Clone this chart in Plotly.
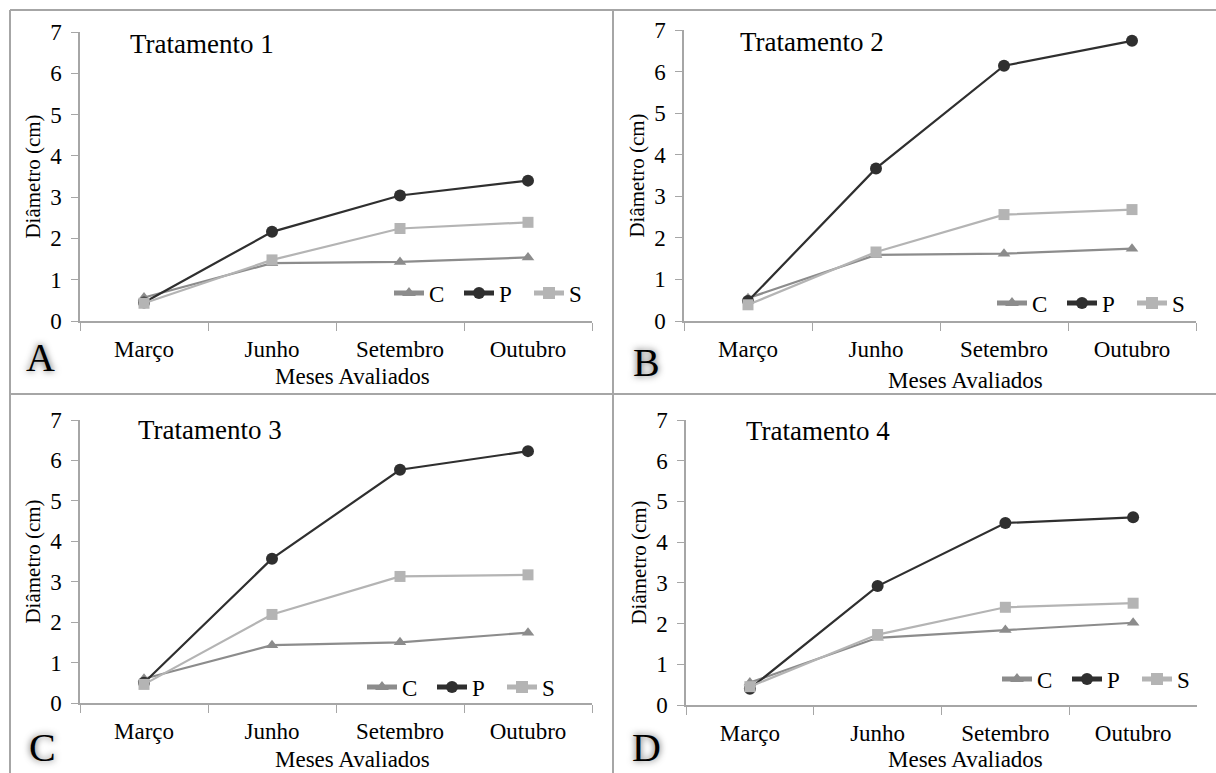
import plotly.graph_objects as go

meses = ["Março", "Junho", "Setembro", "Outubro"]
series_names = ["C", "P", "S"]
titulos = ["Tratamento 1", "Tratamento 2", "Tratamento 3", "Tratamento 4"]
letras = ["A", "B", "C", "D"]

t1_C = [0.57, 1.40, 1.43, 1.54]
t1_P = [0.45, 2.16, 3.04, 3.40]
t1_S = [0.43, 1.48, 2.24, 2.39]

t2_C = [0.55, 1.59, 1.62, 1.74]
t2_P = [0.48, 3.67, 6.14, 6.74]
t2_S = [0.39, 1.66, 2.56, 2.68]

t3_C = [0.60, 1.43, 1.50, 1.74]
t3_P = [0.50, 3.57, 5.77, 6.23]
t3_S = [0.46, 2.19, 3.13, 3.17]

t4_C = [0.55, 1.65, 1.84, 2.02]
t4_P = [0.40, 2.92, 4.47, 4.61]
t4_S = [0.45, 1.73, 2.40, 2.50]

dados = [
    [t1_C, t1_P, t1_S],
    [t2_C, t2_P, t2_S],
    [t3_C, t3_P, t3_S],
    [t4_C, t4_P, t4_S],
]

cores = ["#8c8c8c", "#2f2f2f", "#b4b4b4"]
simbolos = ["triangle-up", "circle", "square"]
msizes = [11, 12, 11]

W, H = 1216, 773
# pixel layouts for each panel: x0, x1, ybottom, ytop
paineis = [
    (80, 592, 321, 32),
    (684, 1196, 321, 30),
    (80, 592, 703, 420),
    (686, 1197, 705, 420),
]
legend_pos = [(599, 293), (1202, 303), (572, 687), (1207, 679)]
title_pos = [(128, 44), (738, 42), (136, 430), (744, 431)]
letter_pos = [(40, 358), (646, 362), (42, 747), (646, 747)]
xtitle_pos = [(352, 376), (965, 380), (352, 759), (965, 759)]

fonte = "Liberation Serif"
fig = go.Figure()
layout = dict(
    width=W, height=H, margin=dict(l=0, r=0, t=0, b=0, autoexpand=False),
    paper_bgcolor="white", plot_bgcolor="white",
    font=dict(family=fonte, size=22, color="black"),
    annotations=[], shapes=[],
)

for i in range(4):
    sfx = "" if i == 0 else str(i + 1)
    lg = "legend" if i == 0 else "legend" + str(i + 1)
    for j in range(3):
        fig.add_trace(go.Scatter(
            x=meses, y=dados[i][j], name=series_names[j], mode="lines+markers",
            line=dict(color=cores[j], width=2.2),
            marker=dict(symbol=simbolos[j], size=msizes[j], color=cores[j]),
            xaxis="x" + sfx, yaxis="y" + sfx, legend=lg,
        ))
    x0, x1, yb, yt = paineis[i]
    layout["xaxis" + sfx] = dict(
        domain=[x0 / W, x1 / W], anchor="y" + sfx, automargin=False,
        range=[-0.5, 3.5], showgrid=False, showline=True, linecolor="#a6a6a6", linewidth=1.5,
        ticks="outside", tickson="boundaries", ticklen=8, tickcolor="#a6a6a6",
        ticklabelstandoff=7,
        tickfont=dict(family=fonte, size=23, color="black"), zeroline=False,
        categoryorder="array", categoryarray=meses,
    )
    layout["yaxis" + sfx] = dict(
        domain=[1 - yb / H, 1 - yt / H], anchor="x" + sfx, automargin=False,
        range=[0, 7], dtick=1, showgrid=False, showline=True, linecolor="#a6a6a6", linewidth=1.5,
        ticks="outside", ticklen=7, tickcolor="#a6a6a6",
        ticklabelstandoff=5,
        tickfont=dict(family=fonte, size=23, color="black"), zeroline=False,
        title=dict(text="Diâmetro (cm)", font=dict(family=fonte, size=21, color="black"), standoff=4),
    )
    lx, ly = legend_pos[i]
    layout[lg] = dict(
        x=lx / W, y=1 - ly / H, xanchor="right", yanchor="middle",
        orientation="h", bgcolor="rgba(0,0,0,0)",
        font=dict(family=fonte, size=23, color="black"), itemwidth=30, tracegroupgap=0,
        itemsizing="constant", entrywidth=25,
    )
    tx, ty = title_pos[i]
    layout["annotations"].append(dict(
        text=titulos[i], x=tx / W, y=1 - ty / H, xref="paper", yref="paper",
        xanchor="left", yanchor="middle", showarrow=False,
        font=dict(family=fonte, size=27, color="black"),
    ))
    mx, my = xtitle_pos[i]
    layout["annotations"].append(dict(
        text="Meses Avaliados", x=mx / W, y=1 - my / H, xref="paper", yref="paper",
        xanchor="center", yanchor="middle", showarrow=False,
        font=dict(family=fonte, size=23, color="black"),
    ))
    px, py = letter_pos[i]
    layout["annotations"].append(dict(
        text=letras[i], x=px / W, y=1 - py / H, xref="paper", yref="paper",
        xanchor="center", yanchor="middle", showarrow=False,
        font=dict(family=fonte, size=40, color="black", shadow="0px 0px 7px #555555"),
    ))

borda = dict(color="#a6a6a6", width=2)
layout["shapes"] = [
    dict(type="line", xref="paper", yref="paper", x0=10 / W, x1=1, y0=1 - 10 / H, y1=1 - 10 / H, line=borda),
    dict(type="line", xref="paper", yref="paper", x0=10 / W, x1=10 / W, y0=0, y1=1 - 10 / H, line=borda),
    dict(type="line", xref="paper", yref="paper", x0=613 / W, x1=613 / W, y0=0, y1=1 - 10 / H, line=borda),
    dict(type="line", xref="paper", yref="paper", x0=10 / W, x1=1, y0=1 - 394 / H, y1=1 - 394 / H, line=borda),
]

fig.update_layout(**layout)
fig.write_html("out.html")
